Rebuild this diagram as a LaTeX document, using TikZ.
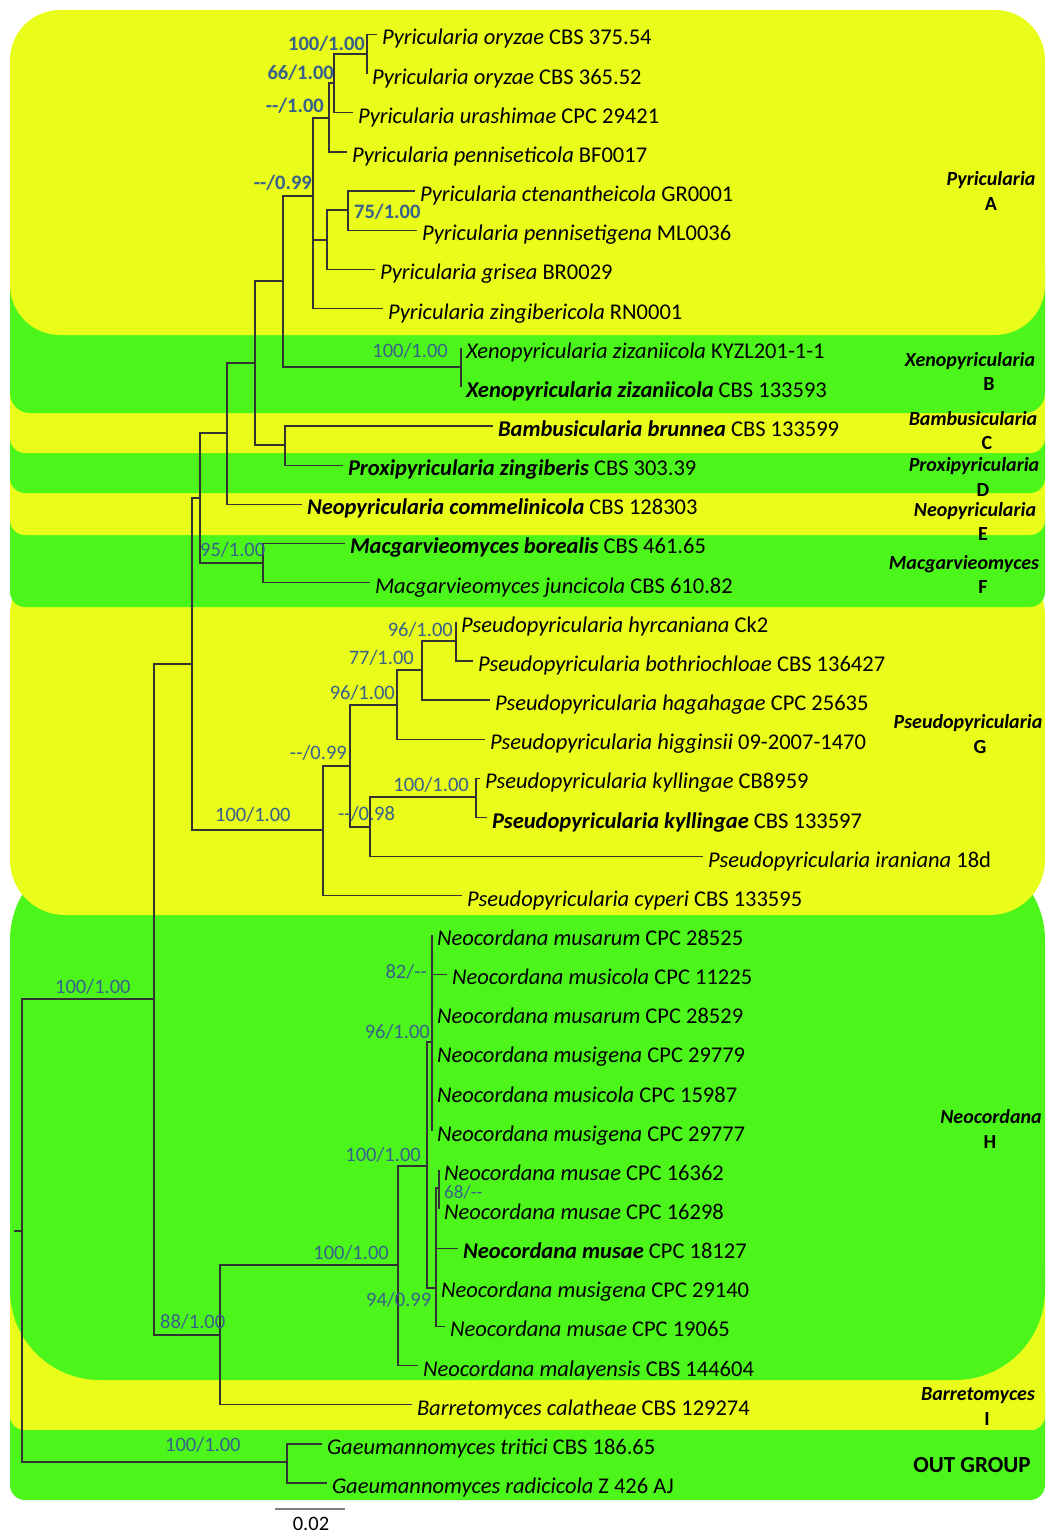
\documentclass[tikz,border=0pt]{standalone}
\usepackage{fontspec}
\setmainfont{Carlito}
\usepackage{tikz}

\definecolor{bandyellow}{RGB}{233,252,26}
\definecolor{bandgreen}{RGB}{77,246,26}
\definecolor{supblue}{RGB}{55,97,138}

\newcommand{\taxon}[2]{\textit{#1} #2}
\newcommand{\taxonb}[2]{\textbf{\textit{#1}} #2}

\tikzset{
  branch/.style={line width=1.2pt, draw=black!80},
  leaf/.style={anchor=west, inner sep=0pt, outer xsep=5pt, outer ysep=0pt,
    text height=21pt, text depth=0pt, font=\fontsize{22.5}{27}\selectfont},
  bs/.style={inner sep=0pt, text=supblue, font=\fontsize{20.5}{24}\selectfont},
  bsb/.style={bs, font=\fontsize{20.5}{24}\selectfont\bfseries},
  clade/.style={anchor=base, inner sep=0pt, font=\fontsize{20}{24}\selectfont\bfseries\itshape},
  cladeletter/.style={anchor=base, inner sep=0pt, font=\fontsize{20}{24}\selectfont\bfseries}
}

\begin{document}
\begin{tikzpicture}[x=1pt,y=-1pt]
\useasboundingbox (0,0) rectangle (1045,1533);

% clade bands, lowest first
\fill[bandgreen, rounded corners=15pt] (10,1380) rectangle (1045,1500);
\fill[bandyellow, rounded corners=14pt] (10,1250) rectangle (1045,1430);
\fill[bandgreen, rounded corners=90pt] (10,850) rectangle (1045,1380);
\fill[bandyellow, rounded corners=55pt] (10,560) rectangle (1045,915);
\fill[bandgreen, rounded corners=15pt] (10,500) rectangle (1045,607);
\fill[bandyellow, rounded corners=15pt] (10,460) rectangle (1045,535);
\fill[bandgreen, rounded corners=15pt] (10,420) rectangle (1045,493);
\fill[bandyellow, rounded corners=15pt] (10,380) rectangle (1045,453);
\fill[bandgreen, rounded corners=20pt] (10,250) rectangle (1045,413);
\fill[bandyellow, rounded corners=50pt] (10,10) rectangle (1045,335);

% taxa
\foreach \i/\x/\t in {
  0/377/{\taxon{Pyricularia oryzae}{CBS 375.54}},
  1/367/{\taxon{Pyricularia oryzae}{CBS 365.52}},
  2/353/{\taxon{Pyricularia urashimae}{CPC 29421}},
  3/347/{\taxon{Pyricularia penniseticola}{BF0017}},
  4/415/{\taxon{Pyricularia ctenantheicola}{GR0001}},
  5/417/{\taxon{Pyricularia pennisetigena}{ML0036}},
  6/375/{\taxon{Pyricularia grisea}{BR0029}},
  7/383/{\taxon{Pyricularia zingibericola}{RN0001}},
  8/461/{\taxon{Xenopyricularia zizaniicola}{KYZL201-1-1}},
  9/461/{\taxonb{Xenopyricularia zizaniicola}{CBS 133593}},
  10/493/{\taxonb{Bambusicularia brunnea}{CBS 133599}},
  11/343/{\taxonb{Proxipyricularia zingiberis}{CBS 303.39}},
  12/302/{\taxonb{Neopyricularia commelinicola}{CBS 128303}},
  13/345/{\taxonb{Macgarvieomyces borealis}{CBS 461.65}},
  14/370/{\taxon{Macgarvieomyces juncicola}{CBS 610.82}},
  15/456/{\taxon{Pseudopyricularia hyrcaniana}{Ck2}},
  16/473/{\taxon{Pseudopyricularia bothriochloae}{CBS 136427}},
  17/490/{\taxon{Pseudopyricularia hagahagae}{CPC 25635}},
  18/485/{\taxon{Pseudopyricularia higginsii}{09-2007-1470}},
  19/480/{\taxon{Pseudopyricularia kyllingae}{CB8959}},
  20/487/{\taxonb{Pseudopyricularia kyllingae}{CBS 133597}},
  21/703/{\taxon{Pseudopyricularia iraniana}{18d}},
  22/462/{\taxon{Pseudopyricularia cyperi}{CBS 133595}},
  23/432/{\taxon{Neocordana musarum}{CPC 28525}},
  24/447/{\taxon{Neocordana musicola}{CPC 11225}},
  25/432/{\taxon{Neocordana musarum}{CPC 28529}},
  26/432/{\taxon{Neocordana musigena}{CPC 29779}},
  27/432/{\taxon{Neocordana musicola}{CPC 15987}},
  28/432/{\taxon{Neocordana musigena}{CPC 29777}},
  29/439/{\taxon{Neocordana musae}{CPC 16362}},
  30/439/{\taxon{Neocordana musae}{CPC 16298}},
  31/458/{\taxonb{Neocordana musae}{CPC 18127}},
  32/436/{\taxon{Neocordana musigena}{CPC 29140}},
  33/445/{\taxon{Neocordana musae}{CPC 19065}},
  34/418/{\taxon{Neocordana malayensis}{CBS 144604}},
  35/412/{\taxon{Barretomyces calatheae}{CBS 129274}},
  36/322/{\taxon{Gaeumannomyces tritici}{CBS 186.65}},
  37/327/{\taxon{Gaeumannomyces radicicola}{Z 426 AJ}}}
  \node[leaf] (l\i) at (\x,34.5+39.15*\i) {\t};

% inner nodes
\coordinate (base) at (14,1231);
\coordinate (root) at (22,1231);
\coordinate (outg) at (287,1462);
\coordinate (ingroup) at (154,999);
\coordinate (neobar) at (220,1335);
\coordinate (neo) at (398,1265);
\coordinate (neo1) at (427,1166);
\coordinate (neo2) at (432,1042);
\coordinate (neo3) at (436,1288);
\coordinate (neo4) at (439,1188);
\coordinate (upper) at (192,664);
\coordinate (pseudo) at (323,830);
\coordinate (ps1) at (350,766);
\coordinate (ps2) at (397,705);
\coordinate (ps3) at (422,670);
\coordinate (ps4) at (456,641);
\coordinate (ps5) at (370,827);
\coordinate (ps6) at (476,797);
\coordinate (upper2) at (200,498);
\coordinate (macg) at (263,563);
\coordinate (upper3) at (227,433);
\coordinate (upper4) at (255,363);
\coordinate (bambprox) at (285,445);
\coordinate (pyrxeno) at (283,281);
\coordinate (xeno) at (461,367);
\coordinate (pyr) at (313,196);
\coordinate (pyr1) at (329,118);
\coordinate (pyr2) at (334,83);
\coordinate (oryz) at (367,54);
\coordinate (pyr3) at (327,240);
\coordinate (pyr4) at (348,210);

% branches
\draw[branch] (base) -- (root);
\foreach \a/\b in {root/ingroup, root/outg, outg/l36, outg/l37,
  ingroup/upper, ingroup/neobar, neobar/neo, neobar/l35,
  neo/neo1, neo/l34, neo1/neo2, neo1/neo3,
  neo2/l23, neo2/l24, neo2/l25, neo2/l26, neo2/l27, neo2/l28,
  neo3/neo4, neo3/l31, neo3/l32, neo3/l33, neo4/l29, neo4/l30,
  upper/upper2, upper/pseudo, pseudo/ps1, pseudo/l22,
  ps1/ps2, ps1/ps5, ps2/ps3, ps2/l18, ps3/ps4, ps3/l17,
  ps4/l15, ps4/l16, ps5/ps6, ps5/l21, ps6/l19, ps6/l20,
  upper2/upper3, upper2/macg, macg/l13, macg/l14,
  upper3/upper4, upper3/l12, upper4/pyrxeno, upper4/bambprox,
  bambprox/l10, bambprox/l11, pyrxeno/pyr, pyrxeno/xeno,
  xeno/l8, xeno/l9, pyr/pyr1, pyr/pyr3, pyr/l7,
  pyr1/pyr2, pyr1/l3, pyr2/oryz, pyr2/l2, oryz/l0, oryz/l1,
  pyr3/pyr4, pyr3/l6, pyr4/l4, pyr4/l5}
  \draw[branch] (\a) |- (\b);

% support values
\node[bsb, anchor=base east] (s1) at (365,50.5) {100/1.00};
\node[bsb, anchor=base east] (s2) at (334,79.5) {66/1.00};
\node[bsb, anchor=base east] (s3) at (324,112.5) {-{}-/1.00};
\node[bsb, anchor=base east] (s4) at (312,189.5) {-{}-/0.99};
\node[bsb, anchor=base west] (s5) at (354,218.5) {75/1.00};
\node[bs, anchor=base east] (s6) at (448,357.5) {100/1.00};
\node[bs, anchor=base west] (s7) at (200,556.5) {95/1.00};
\node[bs, anchor=base east] (s8) at (453,636.5) {96/1.00};
\node[bs, anchor=base east] (s9) at (414,664.5) {77/1.00};
\node[bs, anchor=base east] (s10) at (395,699.5) {96/1.00};
\node[bs, anchor=base east] (s11) at (347,759.5) {-{}-/0.99};
\node[bs, anchor=base east] (s12) at (469,791.5) {100/1.00};
\node[bs, anchor=base west] (s13) at (338,820.5) {-{}-/0.98};
\node[bs, anchor=base west] (s14) at (215,821.5) {100/1.00};
\node[bs, anchor=base west] (s15) at (55,993.5) {100/1.00};
\node[bs, anchor=base east] (s16) at (427,978.5) {82/-{}-};
\node[bs, anchor=base east] (s17) at (430,1038.5) {96/1.00};
\node[bs, anchor=base east] (s18) at (421,1161.5) {100/1.00};
\node[bs, anchor=base west, font=\fontsize{19}{22}\selectfont] (s19) at (444,1198.5) {68/-{}-};
\node[bs, anchor=base east] (s20) at (389,1259.5) {100/1.00};
\node[bs, anchor=base west] (s21) at (366,1306.5) {94/0.99};
\node[bs, anchor=base west] (s22) at (160,1328.5) {88/1.00};
\node[bs, anchor=base west] (s23) at (165,1451.5) {100/1.00};

% clade names
\node[clade] (gA) at (991,185.5) {Pyricularia};
\node[cladeletter] (cA) at (991,210.5) {A};
\node[clade] (gB) at (970,366.5) {Xenopyricularia};
\node[cladeletter] (cB) at (989,390.5) {B};
\node[clade] (gC) at (973,425.5) {Bambusicularia};
\node[cladeletter] (cC) at (987,449.5) {C};
\node[clade] (gD) at (974,471.5) {Proxipyricularia};
\node[cladeletter] (cD) at (983,496.5) {D};
\node[clade] (gE) at (975,516.5) {Neopyricularia};
\node[cladeletter] (cE) at (983,540.5) {E};
\node[clade] (gF) at (964,569.5) {Macgarvieomyces};
\node[cladeletter] (cF) at (983,593.5) {F};
\node[clade] (gG) at (968,728.5) {Pseudopyricularia};
\node[cladeletter] (cG) at (980,753.5) {G};
\node[clade] (gH) at (991,1123.5) {Neocordana};
\node[cladeletter] (cH) at (990,1148.5) {H};
\node[clade] (gI) at (978,1400.5) {Barretomyces};
\node[cladeletter] (cI) at (987,1425.5) {I};
\node[anchor=base, inner sep=0pt, font=\fontsize{23}{27}\selectfont\bfseries] (gOut) at (972,1472.5) {OUT GROUP};

% scale bar
\coordinate (sb1) at (275,1509);
\coordinate (sb2) at (345,1509);
\draw[gray, line width=1.5pt] (sb1) -- (sb2);
\node[anchor=base, inner sep=0pt, font=\fontsize{20.5}{24}\selectfont] (sbtext) at (311,1530) {0.02};
\end{tikzpicture}
\end{document}
